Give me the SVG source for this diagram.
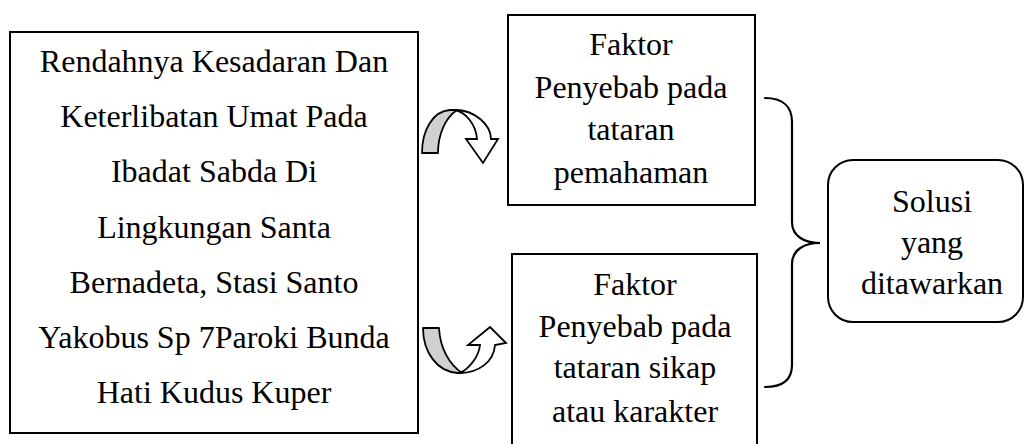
<svg xmlns="http://www.w3.org/2000/svg" width="1025" height="444" viewBox="0 0 1025 444">
<style>
.box{fill:#fff;stroke:#000;stroke-width:2}
.t{font-family:"Liberation Serif","Times New Roman",serif;font-size:32px;fill:#000;text-anchor:middle}
.brace{fill:none;stroke:#000;stroke-width:2.2;stroke-linecap:round}
.gray{fill:#d0d0d0;stroke:#000;stroke-width:1.8;stroke-linejoin:round}
.white{fill:#fff;stroke:#000;stroke-width:1.8;stroke-linejoin:miter}
</style>
<rect width="1025" height="444" fill="#fff"/>
<g id="node-main">
<rect class="box" x="10" y="32" width="408" height="401"/>
<text class="t" x="214" y="72">Rendahnya Kesadaran Dan</text>
<text class="t" x="214" y="127">Keterlibatan Umat Pada</text>
<text class="t" x="214" y="182">Ibadat Sabda Di</text>
<text class="t" x="214" y="238">Lingkungan Santa</text>
<text class="t" x="214" y="293">Bernadeta, Stasi Santo</text>
<text class="t" x="214" y="348">Yakobus Sp 7Paroki Bunda</text>
<text class="t" x="214" y="403">Hati Kudus Kuper</text>
</g>
<g id="node-faktor1">
<rect class="box" x="508" y="15" width="247" height="190"/>
<text class="t" x="631" y="55">Faktor</text>
<text class="t" x="631" y="98">Penyebab pada</text>
<text class="t" x="631" y="140">tataran</text>
<text class="t" x="631" y="183">pemahaman</text>
</g>
<g id="node-faktor2">
<rect class="box" x="512" y="254" width="245" height="200"/>
<text class="t" x="635" y="295">Faktor</text>
<text class="t" x="635" y="337">Penyebab pada</text>
<text class="t" x="635" y="378">tataran sikap</text>
<text class="t" x="635" y="422">atau karakter</text>
</g>
<g id="node-solusi">
<rect class="box" x="828" y="160" width="195" height="162" rx="25" ry="25"/>
<text class="t" x="932" y="212">Solusi</text>
<text class="t" x="932" y="253">yang</text>
<text class="t" x="932" y="294">ditawarkan</text>
</g>
<g id="connectors">
<path class="gray" d="M422,153 C422,130 433,111 450,110 L457,110 C445,118 438,135 438,153 Z"/>
<path class="white" d="M455,110 C475,110 491,125 491,139 L498,139 L483,163 L466,139 L477,139 C476,125 466,112 455,110 Z"/>
<path class="gray" d="M423,328 C423,352 437,372 458,373 L462,373 C449,364 440,348 439,328 Z"/>
<path class="white" d="M460,373 C470,368 479,356 480,345 L468,345 L490,327 L506,343 L495,345 C494,362 478,373 460,373 Z"/>
<path class="brace" d="M765,98 C782,98 792,106 792,122 L792,222 C792,236 804,243 820,243 C804,243 792,250 792,264 L792,365 C792,380 782,387 765,387"/>
</g>
</svg>
